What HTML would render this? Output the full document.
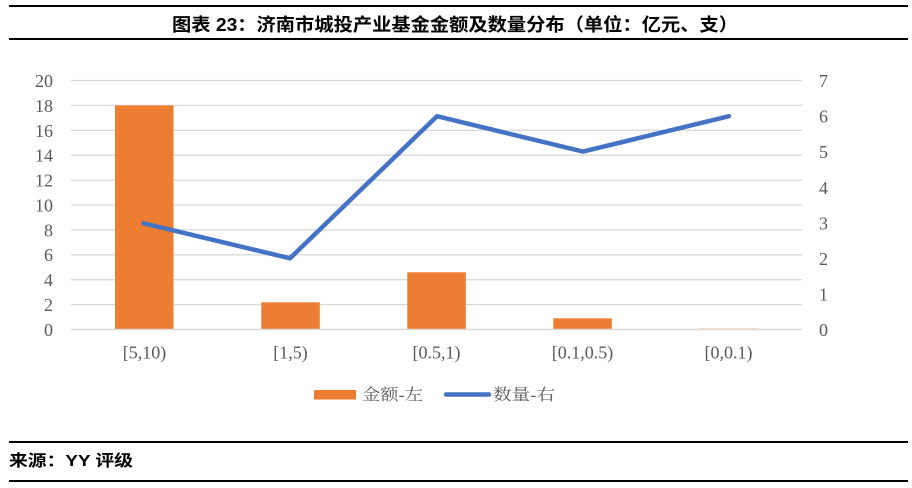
<!DOCTYPE html>
<html>
<head>
<meta charset="utf-8">
<style>
  html,body{margin:0;padding:0;background:#fff;}
  body{width:912px;height:488px;overflow:hidden;}
  svg{display:block;}
</style>
</head>
<body>
<svg width="912" height="488" viewBox="0 0 912 488" xmlns="http://www.w3.org/2000/svg">
  <!-- header rules -->
  <rect x="9" y="5" width="899" height="2" fill="#000"/>
  <rect x="9" y="38" width="899" height="2" fill="#000"/>
  <text x="455" y="31" text-anchor="middle" textLength="566" lengthAdjust="spacingAndGlyphs"
        font-family="'Liberation Sans','Noto Sans CJK SC',sans-serif" font-weight="bold" font-size="18" fill="#000">图表 23：济南市城投产业基金金额及数量分布（单位：亿元、支）</text>

  <!-- gridlines -->
  <g stroke="#d9d9d9" stroke-width="1.3">
    <line x1="71" x2="802" y1="80.5" y2="80.5"/>
    <line x1="71" x2="802" y1="105.4" y2="105.4"/>
    <line x1="71" x2="802" y1="130.3" y2="130.3"/>
    <line x1="71" x2="802" y1="155.2" y2="155.2"/>
    <line x1="71" x2="802" y1="180.1" y2="180.1"/>
    <line x1="71" x2="802" y1="205" y2="205"/>
    <line x1="71" x2="802" y1="229.9" y2="229.9"/>
    <line x1="71" x2="802" y1="254.8" y2="254.8"/>
    <line x1="71" x2="802" y1="279.7" y2="279.7"/>
    <line x1="71" x2="802" y1="304.6" y2="304.6"/>
  </g>

  <!-- bars -->
  <g fill="#ED7D31">
    <rect x="115" y="105.4" width="58.5" height="224.1"/>
    <rect x="261.3" y="302.3" width="58.5" height="27.2"/>
    <rect x="407.3" y="272.3" width="58.5" height="57.2"/>
    <rect x="553.3" y="318.3" width="58.5" height="11.2"/>
    <rect x="699.5" y="328.3" width="58.5" height="1.2" fill="#f6c9a8"/>
  </g>
  <line x1="71" x2="802" y1="329.5" y2="329.5" stroke="#d9d9d9" stroke-width="1.5"/>

  <!-- line series -->
  <polyline points="143.6,223.3 290,258.3 437,116.2 583,151.6 729,116.2" fill="none"
            stroke="#4472C4" stroke-width="4.5" stroke-linejoin="round" stroke-linecap="round"/>

  <!-- left axis labels -->
  <g font-family="'Liberation Serif',serif" font-size="18" fill="#595959" text-anchor="end">
    <text x="53" y="87">20</text>
    <text x="53" y="112">18</text>
    <text x="53" y="137">16</text>
    <text x="53" y="161.5">14</text>
    <text x="53" y="186.5">12</text>
    <text x="53" y="211.5">10</text>
    <text x="53" y="236.5">8</text>
    <text x="53" y="261">6</text>
    <text x="53" y="286">4</text>
    <text x="53" y="311">2</text>
    <text x="53" y="336">0</text>
  </g>
  <!-- right axis labels -->
  <g font-family="'Liberation Serif',serif" font-size="18" fill="#595959" text-anchor="start">
    <text x="819" y="87">7</text>
    <text x="819" y="122.5">6</text>
    <text x="819" y="158">5</text>
    <text x="819" y="194">4</text>
    <text x="819" y="229.5">3</text>
    <text x="819" y="265">2</text>
    <text x="819" y="300.5">1</text>
    <text x="819" y="336">0</text>
  </g>

  <!-- x labels -->
  <g font-family="'Liberation Serif',serif" font-size="18" fill="#595959" text-anchor="middle">
    <text x="144.5" y="358.5">[5,10)</text>
    <text x="290.5" y="358.5">[1,5)</text>
    <text x="436.5" y="358.5">[0.5,1)</text>
    <text x="582.5" y="358.5">[0.1,0.5)</text>
    <text x="728.5" y="358.5">[0,0.1)</text>
  </g>

  <!-- legend -->
  <rect x="314" y="390" width="42" height="9.5" fill="#ED7D31"/>
  <text x="362" y="400" textLength="61" lengthAdjust="spacingAndGlyphs"
        font-family="'Liberation Serif','Noto Serif CJK SC',serif" font-size="16" fill="#595959">金额-左</text>
  <line x1="446" x2="489" y1="394.5" y2="394.5" stroke="#4472C4" stroke-width="4.5" stroke-linecap="round"/>
  <text x="493" y="400" textLength="62" lengthAdjust="spacingAndGlyphs"
        font-family="'Liberation Serif','Noto Serif CJK SC',serif" font-size="16" fill="#595959">数量-右</text>

  <!-- footer -->
  <rect x="9" y="441" width="899" height="2" fill="#000"/>
  <text x="9" y="466" textLength="124" lengthAdjust="spacingAndGlyphs"
        font-family="'Liberation Sans','Noto Sans CJK SC',sans-serif" font-weight="bold" font-size="16" fill="#000">来源：YY 评级</text>
  <rect x="9" y="480" width="899" height="2" fill="#000"/>
</svg>
</body>
</html>
